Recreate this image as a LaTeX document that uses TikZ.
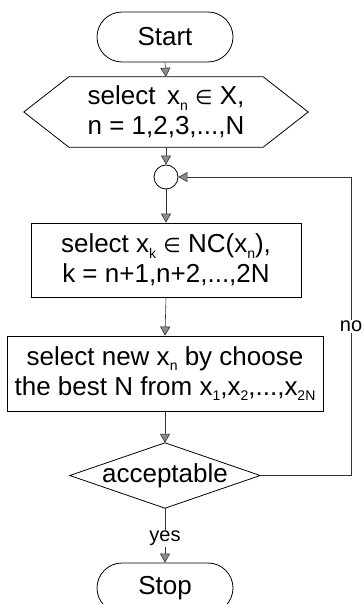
\documentclass[tikz,border=0pt]{standalone}
\usepackage{fontspec}
\setmainfont{Liberation Sans}
\newfontfamily\symfont{DejaVu Sans}
\usetikzlibrary{arrows.meta,shapes.misc}
\newcommand\sbx[1]{\raisebox{-0.22em}{\fontsize{14}{14}\selectfont #1}}
\newcommand\elem{{\symfont\fontsize{20}{20}\selectfont ∈}}
\tikzset{
  txt/.style={font=\fontsize{26}{30}\selectfont, align=center, inner sep=0pt},
  term/.style={txt, rounded rectangle, draw, line width=0.8pt, minimum width=136pt, minimum height=50pt},
  procbox/.style={txt, rectangle, draw, line width=0.8pt},
  shapeline/.style={draw, line width=0.8pt},
  conn/.style={draw=black!80, line width=0.6pt, -{Triangle[width=10pt,length=9pt,fill=black!45]}},
  plain/.style={draw=black!80, line width=0.6pt},
  lbl/.style={font=\fontsize{20}{22}\selectfont, fill=white, inner sep=1pt}
}
\begin{document}
\begin{tikzpicture}[x=1pt,y=-1pt]
\useasboundingbox (0,0) rectangle (363,604);
\clip (0,0) rectangle (363,604);
% nodes
\node[term] (start) at (165,37) {Start};
\node[txt, minimum width=284pt, minimum height=70pt] (hex) at (166,112)
  {select\, x\sbx{n} \elem\ X,\\ n = 1,2,3,...,N};
\draw[shapeline] (hex.west) -- ([xshift=45pt]hex.north west) -- ([xshift=-45pt]hex.north east)
  -- (hex.east) -- ([xshift=-45pt]hex.south east) -- ([xshift=45pt]hex.south west) -- cycle;
\node[circle, draw, line width=0.8pt, minimum size=24pt, inner sep=0pt] (circ) at (166,177) {};
\node[procbox, minimum width=270pt, minimum height=74pt] (box2) at (166,260)
  {select x\sbx{k} \elem\ NC(x\sbx{n}),\\ k = n+1,n+2,...,2N};
\node[procbox, minimum width=316pt, minimum height=75pt] (box3) at (165,373.5)
  {select new x\sbx{n} by choose\\ the best N from x\sbx{1},x\sbx{2},...,x\sbx{2N}};
\node[txt, minimum width=190pt, minimum height=65pt] (dia) at (165,475.5) {acceptable};
\draw[shapeline] (dia.west) -- (dia.north) -- (dia.east) -- (dia.south) -- cycle;
\node[term] (stop) at (165,588) {Stop};
\coordinate (cr) at (351,475.5);
\coordinate (ct) at (351,177);
% connectors
\draw[conn] (start.south) -- (hex.north);
\draw[conn] (hex.south) -- (circ.north);
\draw[conn] (circ.south) -- (box2.north);
\draw[conn] (box2.south) -- (box3.north);
\draw[conn] (box3.south) -- (dia.north);
\draw[conn] (dia.south) -- node[lbl, pos=0.55] (yes) {yes} (stop.north);
\draw[plain] (dia.east) -- (cr);
\draw[plain] (cr) -- node[lbl, pos=0.5] (no) {no} (ct);
\draw[conn] (ct) -- (circ.east);
\end{tikzpicture}
\end{document}
